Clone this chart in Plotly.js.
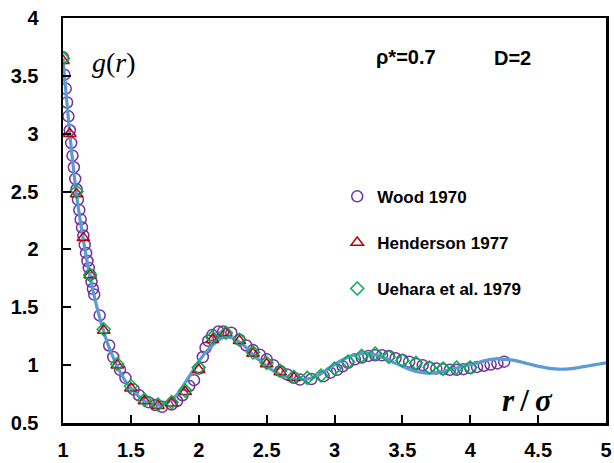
<!DOCTYPE html>
<html>
<head>
<meta charset="utf-8">
<script src="https://cdn.plot.ly/plotly-3.0.1.min.js"></script>
<style>html,body{margin:0;padding:0;background:#fff;}#chart{width:614px;height:463px;}</style>
</head>
<body>
<div id="chart"></div>
<script>
// Theory curve g(r)
const lineR = [1.00,1.05,1.10,1.15,1.20,1.25,1.30,1.35,1.40,1.45,1.50,1.55,1.60,1.65,1.70,1.75,1.80,1.85,1.90,1.95,2.00,2.05,2.10,2.15,2.20,2.25,2.30,2.35,2.40,2.45,2.50,2.55,2.60,2.65,2.70,2.75,2.80,2.85,2.90,2.95,3.00,3.05,3.10,3.15,3.20,3.25,3.30,3.35,3.40,3.45,3.50,3.55,3.60,3.65,3.70,3.75,3.80,3.85,3.90,3.95,4.00,4.05,4.10,4.15,4.20,4.25,4.30,4.35,4.40,4.45,4.50,4.55,4.60,4.65,4.70,4.75,4.80,4.85,4.90,4.95,5.00];
const lineG = [3.65,3.00,2.47,2.08,1.76,1.50,1.29,1.12,0.99,0.88,0.80,0.74,0.69,0.665,0.655,0.665,0.70,0.76,0.85,0.94,1.03,1.11,1.17,1.22,1.245,1.235,1.20,1.15,1.09,1.04,0.99,0.95,0.92,0.895,0.88,0.875,0.88,0.895,0.925,0.965,1.005,1.04,1.07,1.09,1.10,1.10,1.09,1.07,1.045,1.015,0.99,0.965,0.945,0.935,0.93,0.935,0.945,0.96,0.975,0.99,1.005,1.02,1.035,1.05,1.055,1.05,1.045,1.035,1.02,1.005,0.99,0.98,0.97,0.965,0.965,0.97,0.98,0.99,1.00,1.01,1.02];

// Wood 1970
const woodR = [1.00,1.01,1.02,1.03,1.04,1.05,1.06,1.07,1.08,1.09,1.10,1.11,1.12,1.13,1.14,1.15,1.16,1.17,1.18,1.19,1.20,1.21,1.22,1.23,1.27,1.34,1.37,1.42,1.46,1.52,1.56,1.63,1.68,1.73,1.80,1.84,1.88,1.93,1.965,2.00,2.03,2.05,2.07,2.10,2.145,2.18,2.24,2.30,2.35,2.40,2.45,2.50,2.55,2.60,2.65,2.70,2.745,2.83,2.92,2.97,3.02,3.06,3.10,3.15,3.20,3.25,3.30,3.35,3.40,3.45,3.50,3.55,3.60,3.65,3.70,3.75,3.80,3.85,3.90,3.95,4.00,4.05,4.10,4.15,4.20,4.25];
const woodG = [3.66,3.51,3.39,3.27,3.15,3.03,2.92,2.81,2.71,2.61,2.52,2.43,2.34,2.26,2.19,2.12,2.04,1.97,1.90,1.84,1.78,1.72,1.66,1.61,1.43,1.17,1.07,0.96,0.89,0.79,0.74,0.68,0.655,0.64,0.66,0.69,0.74,0.82,0.87,0.97,1.07,1.15,1.21,1.26,1.29,1.29,1.28,1.22,1.17,1.13,1.09,1.05,1.00,0.95,0.92,0.89,0.875,0.88,0.905,0.935,0.96,0.99,1.02,1.05,1.065,1.08,1.085,1.085,1.08,1.06,1.045,1.03,1.01,1.00,0.98,0.97,0.965,0.96,0.96,0.965,0.975,0.985,0.995,1.005,1.015,1.03];

// Henderson 1977
const hendR = [1.00,1.05,1.10,1.15,1.20,1.30,1.40,1.50,1.60,1.70,1.80,1.90,2.00,2.10,2.20,2.30,2.40,2.50,2.60,2.70];
const hendG = [3.63,3.00,2.48,2.10,1.78,1.30,1.00,0.80,0.69,0.65,0.67,0.77,0.96,1.22,1.28,1.21,1.10,1.01,0.94,0.89];

// Uehara et al. 1979
const ueR = [1.00,1.10,1.20,1.30,1.40,1.50,1.60,1.70,1.80,1.90,2.00,2.10,2.20,2.30,2.40,2.50,2.60,2.70,2.80,2.90,3.00,3.10,3.20,3.30,3.40,3.50,3.60,3.70,3.80,3.90,4.00];
const ueG = [3.65,2.50,1.78,1.31,1.01,0.82,0.70,0.66,0.68,0.78,0.98,1.24,1.28,1.22,1.11,1.02,0.95,0.90,0.89,0.91,0.97,1.03,1.08,1.10,1.07,1.04,1.02,0.98,0.97,0.98,0.98];

const traces = [
  {x: woodR, y: woodG, mode: 'markers', type: 'scatter', name: 'Wood 1970', legendgroup: 'a',
   marker: {symbol: 'circle-open', size: 11, color: '#7030A0', line: {width: 1.5}}},
  {x: lineR, y: lineG, mode: 'lines', type: 'scatter', showlegend: false,
   line: {color: '#5B9BD5', width: 3.2, shape: 'spline'}},
  {x: hendR, y: hendG, mode: 'markers', type: 'scatter', name: 'Henderson 1977', legendgroup: 'b',
   marker: {symbol: 'triangle-up-open', size: 11, color: '#C00000', line: {width: 1.5}}},
  {x: ueR, y: ueG, mode: 'markers', type: 'scatter', name: 'Uehara et al. 1979', legendgroup: 'c',
   marker: {symbol: 'diamond-open', size: 10, color: '#00B050', line: {width: 1.5}}}
];

const FAM = '"Liberation Sans", Arial, sans-serif';
const tickFont = {family: FAM, size: 20, color: '#000', weight: 'bold'};

const layout = {
  width: 614, height: 463,
  margin: {l: 63, r: 8, t: 18, b: 40, pad: 0},
  paper_bgcolor: '#fff', plot_bgcolor: '#fff',
  showlegend: true,
  legend: {x: 0.505, y: 0.603, xanchor: 'left', yanchor: 'top', bgcolor: 'rgba(0,0,0,0)',
    font: {family: FAM, size: 17, color: '#000', weight: 'bold'},
    tracegroupgap: 21, itemwidth: 30},
  xaxis: {range: [1, 5], dtick: 0.5, tick0: 1, ticks: 'inside', ticklen: 8, tickwidth: 2, tickcolor: '#000',
    showline: true, linecolor: '#000', linewidth: 2.5, mirror: true, showgrid: false, zeroline: false,
    tickfont: tickFont, ticklabelstandoff: 7},
  yaxis: {range: [0.5, 4], dtick: 0.5, tick0: 0.5, ticks: 'inside', ticklen: 8, tickwidth: 2, tickcolor: '#000',
    showline: true, linecolor: '#000', linewidth: 2.5, mirror: true, showgrid: false, zeroline: false,
    tickfont: tickFont, ticklabelstandoff: 18},
  annotations: [
    {xref: 'paper', yref: 'paper', x: 0.05, y: 0.89, xanchor: 'left', yanchor: 'middle', showarrow: false,
     text: '<i>g</i>(<i>r</i>)', font: {family: 'Liberation Serif, serif', size: 28, color: '#000'}},
    {xref: 'paper', yref: 'paper', x: 0.573, y: 0.903, xanchor: 'left', yanchor: 'middle', showarrow: false,
     text: 'ρ*=0.7', font: {family: FAM, size: 20, color: '#000', weight: 'bold'}},
    {xref: 'paper', yref: 'paper', x: 0.79, y: 0.9, xanchor: 'left', yanchor: 'middle', showarrow: false,
     text: 'D=2', font: {family: FAM, size: 20, color: '#000', weight: 'bold'}},
    {xref: 'paper', yref: 'paper', x: 0.805, y: 0.055, xanchor: 'left', yanchor: 'middle', showarrow: false,
     text: '<b><i>r</i>\u2009/\u2009<i>σ</i></b>', font: {family: 'Liberation Serif, serif', size: 31, color: '#000'}}
  ]
};

Plotly.newPlot('chart', traces, layout, {displayModeBar: false, staticPlot: true});
</script>
</body>
</html>
